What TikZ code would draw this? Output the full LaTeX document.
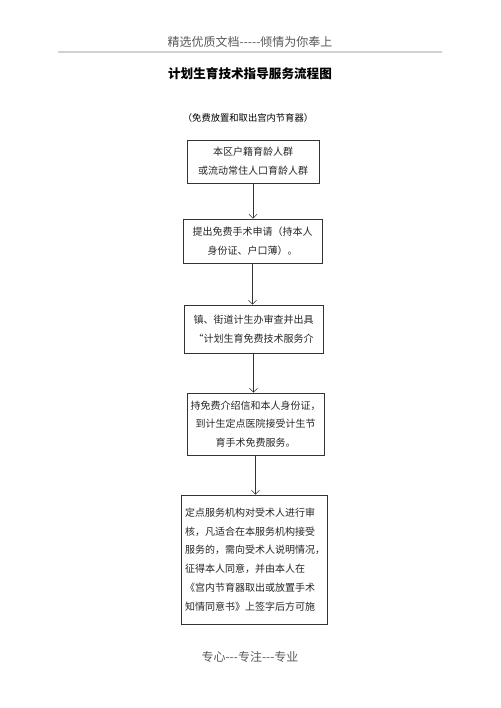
\documentclass[tikz,border=0pt]{standalone}
\usepackage{fontspec}
\newfontfamily\cjk{Noto Sans CJK SC}
\usetikzlibrary{positioning}
\usetikzlibrary{arrows.meta}
\tikzset{stepbox/.style={draw=black!80,line width=0.7pt,inner sep=2pt,font=\cjk\fontsize{10}{18.7}\selectfont,text=black!85}}
\tikzset{flow/.style={-{Straight Barb[length=4pt,width=8pt]},line width=0.6pt,draw=black!80}}

\begin{document}
\begin{tikzpicture}[x=1pt,y=-1pt]

\useasboundingbox (0,0) rectangle (500,708);

% page header and footer
\node[font=\cjk\fontsize{12}{14}\selectfont,text=black!65] (head) at (250,42) {精选优质文档-----倾情为你奉上};
\draw[black!18,line width=1.6pt] (58,52) -- (442,52);
\node[font=\cjk\fontsize{12}{14}\selectfont,text=black!65] (foot) at (250,657) {专心---专注---专业};

% title
\node[font=\cjk\bfseries\fontsize{12.6}{14}\selectfont] (title) at (250,74) {计划生育技术指导服务流程图};
\node[font=\cjk\fontsize{9.3}{12}\selectfont] (sub) at (248,118) {（免费放置和取出宫内节育器）};

% steps
\node[stepbox,minimum width=132,minimum height=43,align=center] (S1) at (253,161.5)
  {本区户籍育龄人群\\或流动常住人口育龄人群};
\node[stepbox,minimum width=139,minimum height=44,align=center] (S2) at (252.5,241)
  {提出免费手术申请（持本人\\身份证、户口薄）。};
\node[stepbox,minimum width=139,minimum height=48,align=center] (S3) at (253.5,329)
  {镇、街道计生办审查并出具\\“计划生育免费技术服务介};
\node[stepbox,minimum width=137,minimum height=62,align=center] (S4) at (255.5,424)
  {持免费介绍信和本人身份证，\\到计生定点医院接受计生节\\育手术免费服务。};
\node[stepbox,minimum width=146,minimum height=129,text width=138,align=left] (S5) at (254,559.5)
  {定点服务机构对受术人进行审\\核，凡适合在本服务机构接受\\服务的，需向受术人说明情况，\\征得本人同意，并由本人在\\《宫内节育器取出或放置手术\\知情同意书》上签字后方可施};

% arrows
\foreach \a/\b in {S1/S2, S2/S3, S3/S4, S4/S5}
  \draw[flow] (\a.south) -- (\a.south |- \b.north);

\end{tikzpicture}
\end{document}
